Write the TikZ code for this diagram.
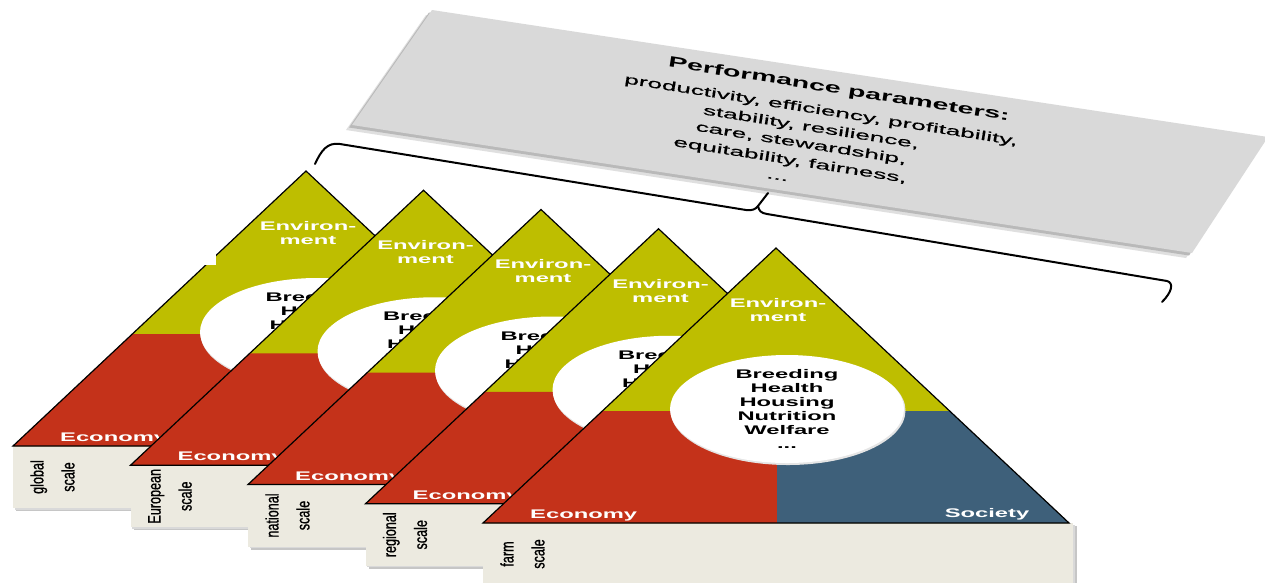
\documentclass[tikz,border=0pt]{standalone}
\usepackage{fontspec}
\setmainfont{Liberation Sans}
\newfontfamily\widef{Liberation Sans}[FakeStretch=1.9]
\newfontfamily\boxf{Liberation Sans}[FakeStretch=2.02,FakeBold=0.6]
\newfontfamily\narrowf{Liberation Sans}[FakeStretch=0.7,FakeBold=0.8]
\usetikzlibrary{shapes.geometric}
\definecolor{pgreen}{RGB}{190,190,0}
\definecolor{pred}{RGB}{196,50,26}
\definecolor{pblue}{RGB}{62,96,122}
\definecolor{pbeige}{RGB}{236,234,224}
\definecolor{pgrey}{RGB}{217,217,217}
\tikzset{
  outline/.style={draw=black, line width=1.2pt, line join=miter},
  whitelab/.style={text=white, font=\widef\bfseries\fontsize{12.5}{14}\selectfont, align=center, inner sep=0pt},
  listlab/.style={text=black, font=\widef\bfseries\fontsize{12.5}{14}\selectfont, align=center, inner sep=0pt},
  scalelab/.style={text=black, font=\narrowf\fontsize{18}{31}\selectfont, align=center, rotate=90, inner sep=0pt},
  perfhead/.style={text=black, font=\widef\bfseries\fontsize{15}{18}\selectfont, rotate=-9, inner sep=0pt},
  perftext/.style={text=black, font=\boxf\fontsize{13}{15}\selectfont, rotate=-9, inner sep=0pt},
  bracestyle/.style={draw=black, line width=2pt, line cap=round, line join=round},
}
\begin{document}
\begin{tikzpicture}[x=1pt,y=-1pt]
\useasboundingbox (0,0) rectangle (1265,582);
\fill[white] (0,0) rectangle (1265,582);

% performance parameters panel
\fill[gray!25] (426,15) -- (1262,142) -- (1186,258) -- (346,130) -- cycle;
\fill[gray!55] (429,12.5) -- (1265,139.5) -- (1189,255.5) -- (349,127.5) -- cycle;
\fill[pgrey] (432,10) -- (1268,137) -- (1192,253) -- (352,125) -- cycle;
\node[perfhead] (ph) at (839,90) {Performance parameters:};
\node[perftext] (p1) at (821,111) {productivity, efficiency, profitability,};
\node[perftext] (p2) at (811,128) {stability, resilience,};
\node[perftext] (p3) at (801,144) {care, stewardship,};
\node[perftext] (p4) at (790,161) {equitability, fairness,};
\node[perftext] (p5) at (777,179) {...};

% brace
\coordinate (bl) at (315,164);
\coordinate (bc) at (758,206);
\coordinate (bt) at (768,193);
\coordinate (br) at (1162,302);
\draw[bracestyle] (bl) .. controls (321,151) and (327,142) .. (340,144)
  -- (746,210) .. controls (752,211) and (756,209) .. (bc) -- (bt);
\draw[bracestyle] (bc) .. controls (759,211) and (761,213) .. (767,214)
  -- (1167,281) .. controls (1174,283) and (1172,292) .. (br);

% pyramids
\foreach \i/\lab in {0/global,1/European,2/national,3/regional,4/farm}{
  \pgfmathsetmacro\dx{117.5*\i}
  \pgfmathsetmacro\dy{19.25*\i}
  \begin{scope}[shift={(\dx,\dy)}]
    \fill[gray!45] (16,449) rectangle (607,511);
    \fill[gray!30] (14.5,447.5) rectangle (605,509.5);
    \fill[pbeige] (13,446) rectangle (603,508);
    \fill[pgreen] (13,446) -- (306,171) -- (599,446) -- cycle;
    \fill[pred] (13,446) -- (132.3,334) -- (307,334) -- (307,446) -- cycle;
    \fill[pblue] (307,446) -- (307,334) -- (479.7,334) -- (599,446) -- cycle;
    \fill[gray!20] (318,333.5) ellipse [x radius=117.5, y radius=54.5];
    \fill[white] (317,332) ellipse [x radius=117, y radius=54];
    \draw[outline] (13,446) -- (306,171) -- (599,446) -- cycle;
    \node[whitelab] (env\i) at (308,233) {Environ-\\ment};
    \node[whitelab, anchor=base west] (eco\i) at (60,441.5) {Economy};
    \node[whitelab, anchor=base] (soc\i) at (517,440.5) {Society};
    \node[listlab] (lst\i) at (317,332) {Breeding\\Health\\Housing\\Nutrition\\Welfare\\...};
    \node[scalelab] (scl\i) at (52.5,477) {\lab\\scale};
  \end{scope}
}
\fill[white] (196,254) rectangle (216,265);
\end{tikzpicture}
\end{document}
